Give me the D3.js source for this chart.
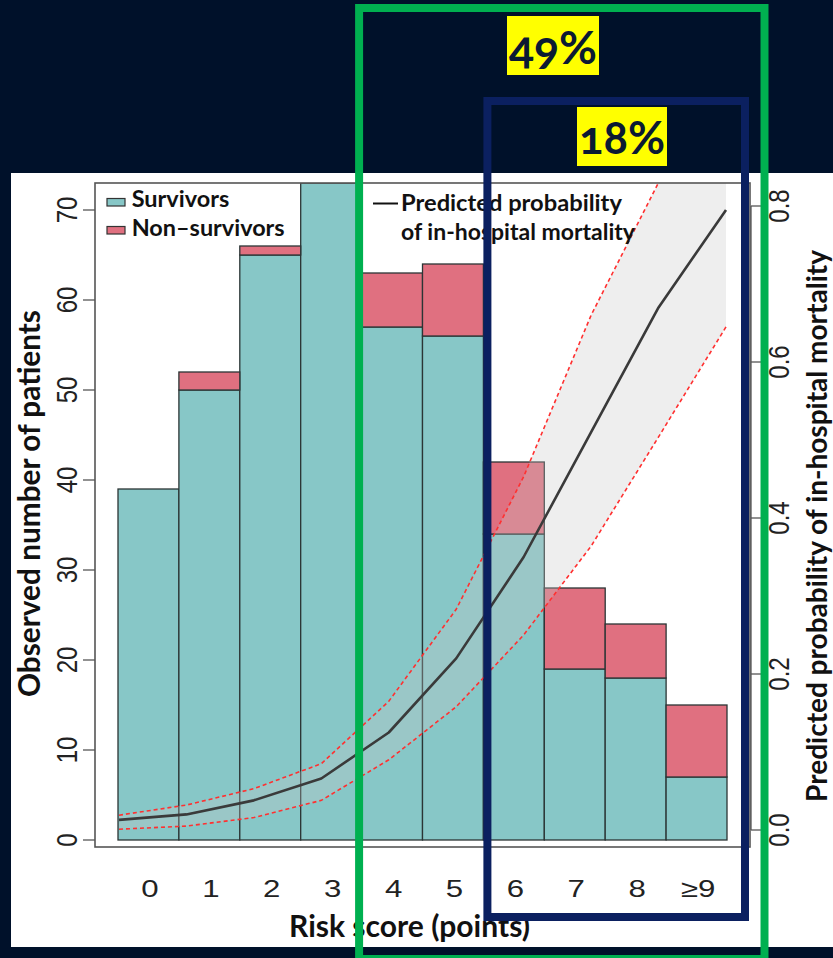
<!DOCTYPE html>
<html>
<head>
<meta charset="utf-8">
<script src="https://cdn.jsdelivr.net/npm/d3@7"></script>
<style>
  html, body { margin: 0; padding: 0; background: #00112a; }
  svg { display: block; }
</style>
</head>
<body>
<svg id="chart" width="833" height="958"></svg>
<script>
// Risk score categories and observed patient counts
const scores = ["0", "1", "2", "3", "4", "5", "6", "7", "8", "≥9"];
const survivors = [39, 50, 65, 73, 57, 56, 34, 19, 18, 7];
const nonSurvivors = [0, 2, 1, 0, 6, 8, 8, 9, 6, 8];

// Predicted probability of in-hospital mortality with 95% confidence band
const predicted = [0.013, 0.020, 0.038, 0.066, 0.125, 0.22, 0.35, 0.51, 0.67, 0.795];
const ciLower = [0.001, 0.005, 0.016, 0.038, 0.09, 0.158, 0.25, 0.364, 0.504, 0.645];
const ciUpper = [0.019, 0.032, 0.053, 0.085, 0.165, 0.283, 0.453, 0.66, 0.83, 0.93];

// Axis ticks
const countTicks = [0, 10, 20, 30, 40, 50, 60, 70];
const probTicks = [0, 0.2, 0.4, 0.6, 0.8];

// Highlight labels: share of patients from a given score upward
const highlightLabels = ["49%", "18%"];
const highlightFrom = ["4", "6"];

const W = 833, H = 958;
const svg = d3.select("#chart");

const COL = {
  page: "#00112a",
  surv: "#87c7c7",
  non: "#e07080",
  barStroke: "#2b3535",
  frame: "#555",
  text: "#222",
  band: "rgb(200,200,200)",
  ci: "#ff3030",
  curve: "#3a3a3a",
  green: "#00b050",
  navy: "#0b2060",
  yellow: "#ffff00",
  tag: "#0b1a33"
};

svg.append("rect").attr("width", W).attr("height", H).attr("fill", COL.page);
// white figure panel
svg.append("rect").attr("x", 11).attr("y", 173).attr("width", W - 11).attr("height", 947 - 173).attr("fill", "#fff");

const plot = { left: 95, right: 750, top: 183, bottom: 847 };

const x = d3.scaleBand().domain(scores).range([118, 727]).padding(0);
const yCount = d3.scaleLinear().domain([0, 73]).range([840, 183]);
const xScore = d3.scaleLinear().domain([0, scores.length - 1]).range([119, 726]);
const yProb = d3.scaleLinear().domain([0, 0.8]).range([830, 206]);

svg.append("defs").append("clipPath").attr("id", "plotClip")
  .append("rect")
  .attr("x", plot.left).attr("y", plot.top)
  .attr("width", plot.right - plot.left).attr("height", plot.bottom - plot.top);

// stacked bars
const rows = scores.map((s, i) => ({ score: s, surv: survivors[i], non: nonSurvivors[i] }));
const stacked = d3.stack().keys(["surv", "non"])(rows);

const gBars = svg.append("g").attr("clip-path", "url(#plotClip)");
gBars.selectAll("g").data(stacked).join("g")
  .attr("fill", d => COL[d.key])
  .selectAll("rect").data(d => d.filter(v => v[1] > v[0])).join("rect")
  .attr("x", d => x(d.data.score))
  .attr("width", x.bandwidth())
  .attr("y", d => yCount(d[1]))
  .attr("height", d => yCount(d[0]) - yCount(d[1]))
  .attr("stroke", COL.barStroke)
  .attr("stroke-width", 1.3);

// confidence band, limits and predicted curve
const idx = d3.range(scores.length);
const gCurve = svg.append("g").attr("clip-path", "url(#plotClip)");
gCurve.append("path").datum(idx)
  .attr("d", d3.area().x(i => xScore(i)).y0(i => yProb(ciLower[i])).y1(i => yProb(ciUpper[i])))
  .attr("fill", COL.band).attr("fill-opacity", 0.3);

[ciLower, ciUpper].forEach(arr => {
  gCurve.append("path").datum(idx)
    .attr("d", d3.line().x(i => xScore(i)).y(i => yProb(arr[i])))
    .attr("fill", "none").attr("stroke", COL.ci)
    .attr("stroke-width", 1.6).attr("stroke-dasharray", "4,3");
});

gCurve.append("path").datum(idx)
  .attr("d", d3.line().x(i => xScore(i)).y(i => yProb(predicted[i])))
  .attr("fill", "none").attr("stroke", COL.curve).attr("stroke-width", 2.6)
  .attr("stroke-linejoin", "round");

// plot frame
svg.append("rect")
  .attr("x", plot.left).attr("y", plot.top)
  .attr("width", plot.right - plot.left).attr("height", plot.bottom - plot.top)
  .attr("fill", "none").attr("stroke", COL.frame).attr("stroke-width", 1.6);

// left axis (counts)
const gLeft = svg.append("g");
gLeft.selectAll("line").data(countTicks).join("line")
  .attr("x1", plot.left - 12).attr("x2", plot.left)
  .attr("y1", d => yCount(d)).attr("y2", d => yCount(d))
  .attr("stroke", COL.frame).attr("stroke-width", 1.3);
gLeft.selectAll("text").data(countTicks).join("text")
  .attr("transform", d => `translate(67,${yCount(d)}) scale(1.2,1) rotate(-90)`)
  .attr("text-anchor", "middle").attr("dominant-baseline", "central")
  .attr("font-family", "Liberation Sans, Arial, sans-serif").attr("font-size", 24)
  .attr("fill", COL.text)
  .text(d => d);

// right axis (probability)
const gRight = svg.append("g");
gRight.append("line")
  .attr("x1", plot.right + 1).attr("x2", plot.right + 1)
  .attr("y1", yProb(0)).attr("y2", yProb(0.8))
  .attr("stroke", COL.frame).attr("stroke-width", 1.3);
gRight.selectAll("line.tick").data(probTicks).join("line").attr("class", "tick")
  .attr("x1", plot.right + 1).attr("x2", plot.right + 12)
  .attr("y1", d => yProb(d)).attr("y2", d => yProb(d))
  .attr("stroke", COL.frame).attr("stroke-width", 1.3);
gRight.selectAll("text").data(probTicks).join("text")
  .attr("transform", d => `translate(779,${yProb(d)}) scale(1.2,1) rotate(-90)`)
  .attr("text-anchor", "middle").attr("dominant-baseline", "central")
  .attr("font-family", "Liberation Sans, Arial, sans-serif").attr("font-size", 24)
  .attr("fill", COL.text)
  .text(d => d3.format(".1f")(d));

// bottom category labels
svg.append("g").selectAll("text").data(scores).join("text")
  .attr("transform", d => `translate(${x(d) + x.bandwidth() / 2 + 1.5},897) scale(1.3,1)`)
  .attr("text-anchor", "middle")
  .attr("font-family", "Liberation Sans, Arial, sans-serif").attr("font-size", 24)
  .attr("fill", COL.text)
  .text(d => d);

// fit a text element's natural width to a target width by adjusting its font size
function fitWidth(sel, target) {
  const w = sel.node().getComputedTextLength();
  const fs = parseFloat(sel.attr("font-size"));
  sel.attr("font-size", (fs * target / w).toFixed(2));
  return sel;
}
const boldFont = "Lato, 'Open Sans', sans-serif";

// axis titles
fitWidth(svg.append("text")
  .attr("transform", "translate(40,503.5) rotate(-90)")
  .attr("text-anchor", "middle").attr("font-family", boldFont).attr("font-weight", 700)
  .attr("font-size", 27).attr("fill", "#111")
  .text("Observed number of patients"), 387);

fitWidth(svg.append("text")
  .attr("transform", "translate(826.5,526) rotate(-90)")
  .attr("text-anchor", "middle").attr("font-family", boldFont).attr("font-weight", 700)
  .attr("font-size", 25).attr("fill", "#111")
  .text("Predicted probability of in-hospital mortality"), 552);

fitWidth(svg.append("text")
  .attr("x", 409.5).attr("y", 937)
  .attr("text-anchor", "middle").attr("font-family", boldFont).attr("font-weight", 700)
  .attr("font-size", 24).attr("fill", "#111")
  .text("Risk score (points)"), 241);

// legend
const legend = svg.append("g");
[["surv", "Survivors", 198.5, 206.7, 97.6], ["non", "Non–survivors", 226.5, 236, 153]].forEach(([key, label, py, ty, tw]) => {
  legend.append("rect").attr("x", 107).attr("y", py).attr("width", 18).attr("height", 7.5)
    .attr("fill", COL[key]).attr("stroke", "#333").attr("stroke-width", 1.2);
  fitWidth(legend.append("text").attr("x", 131.7).attr("y", ty)
    .attr("font-family", boldFont).attr("font-weight", 700).attr("font-size", 19)
    .attr("fill", "#111").text(label), tw);
});
legend.append("line").attr("x1", 373).attr("x2", 398).attr("y1", 203.5).attr("y2", 203.5)
  .attr("stroke", "#111").attr("stroke-width", 2);
fitWidth(legend.append("text").attr("x", 401).attr("y", 211)
  .attr("font-family", boldFont).attr("font-weight", 700).attr("font-size", 20)
  .attr("fill", "#111").text("Predicted probability"), 221);
fitWidth(legend.append("text").attr("x", 401).attr("y", 240)
  .attr("font-family", boldFont).attr("font-weight", 700).attr("font-size", 20)
  .attr("fill", "#111").text("of in-hospital mortality"), 234);

// highlight frames around the higher-risk groups
const frames = [
  { left: x(highlightFrom[0]) - 2.5, right: 764.5, top: 8, bottom: 959, color: COL.green },
  { left: x(highlightFrom[1]) + 4, right: 745, top: 101, bottom: 917, color: COL.navy }
];
svg.append("g").selectAll("rect").data(frames).join("rect")
  .attr("x", d => d.left).attr("y", d => d.top)
  .attr("width", d => d.right - d.left).attr("height", d => d.bottom - d.top)
  .attr("fill", "none").attr("stroke", d => d.color).attr("stroke-width", 8);

// percentage tags
const tags = [
  { x: 507, y: 16, w: 92, h: 59 },
  { x: 577, y: 107, w: 90, h: 59 }
];
const gTags = svg.append("g");
tags.forEach((t, i) => {
  gTags.append("rect").attr("x", t.x).attr("y", t.y).attr("width", t.w).attr("height", t.h)
    .attr("fill", COL.yellow);
  const txt = gTags.append("text")
    .attr("x", t.x + t.w / 2).attr("y", t.y + t.h / 2)
    .attr("text-anchor", "middle").attr("dominant-baseline", "central")
    .attr("font-family", boldFont).attr("font-weight", 700).attr("font-size", 44)
    .style("font-variant-numeric", "oldstyle-nums")
    .attr("fill", COL.tag)
    .text(highlightLabels[i]);
  fitWidth(txt, t.w - 4);
});
</script>
</body>
</html>
